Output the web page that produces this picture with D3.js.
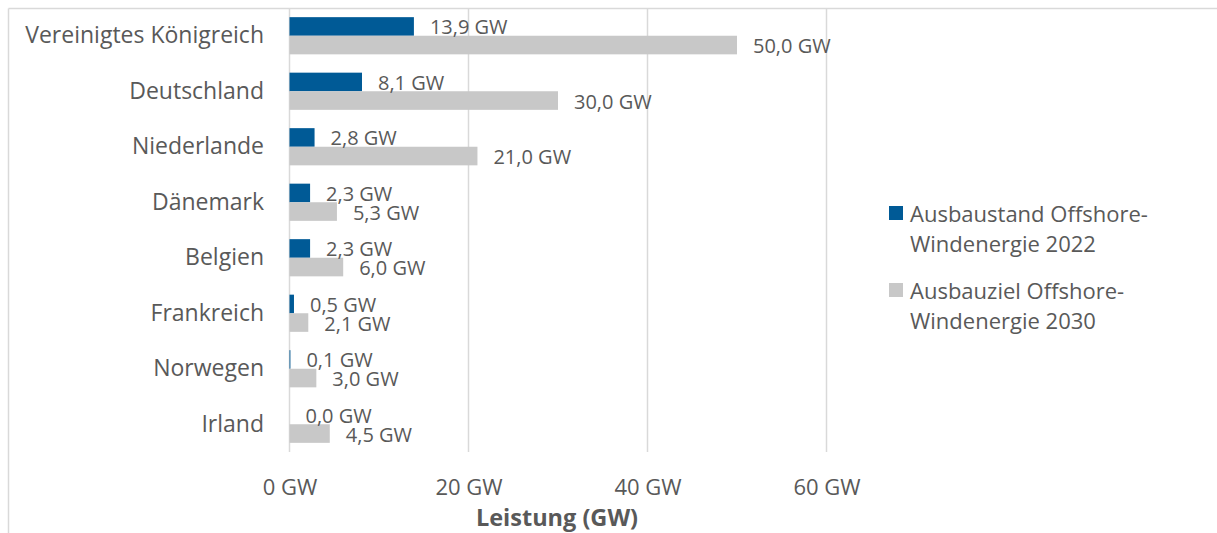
<!DOCTYPE html>
<html>
<head>
<meta charset="utf-8">
<script src="https://cdn.jsdelivr.net/npm/d3@7"></script>
<style>
  html, body { margin: 0; padding: 0; background: #fff; }
  svg { display: block; font-family: "Open Sans", "Noto Sans", sans-serif; }
</style>
</head>
<body>
<svg id="chart" width="1217" height="533"></svg>
<script>
// Offshore wind capacity by country: installed 2022 vs. target 2030 (GW)
const countries = ["Vereinigtes Königreich", "Deutschland", "Niederlande", "Dänemark",
                   "Belgien", "Frankreich", "Norwegen", "Irland"];
const installed2022 = [13.9, 8.1, 2.8, 2.3, 2.3, 0.5, 0.1, 0.0];
const target2030 = [50.0, 30.0, 21.0, 5.3, 6.0, 2.1, 3.0, 4.5];
const seriesNames = ["Ausbaustand Offshore-Windenergie 2022", "Ausbauziel Offshore-Windenergie 2030"];
const legendLines = [["Ausbaustand Offshore-", "Windenergie 2022"], ["Ausbauziel Offshore-", "Windenergie 2030"]];
const xTicks = [0, 20, 40, 60];
const axisTitle = "Leistung (GW)";

const colors = ["#005a96", "#c8c8c8"];
const textColor = "#595959";
const fmt = v => d3.format(".1f")(v).replace(".", ",") + " GW";

const svg = d3.select("#chart");

// chart frame (top and left edges)
svg.append("line").attr("x1", 8.5).attr("x2", 1217).attr("y1", 8.5).attr("y2", 8.5)
  .attr("stroke", "#d9d9d9").attr("stroke-width", 1.5);
svg.append("line").attr("x1", 8.5).attr("x2", 8.5).attr("y1", 8.5).attr("y2", 533)
  .attr("stroke", "#d9d9d9").attr("stroke-width", 1.5);

const x = d3.scaleLinear().domain([0, 60]).range([289.5, 826.5]);
const y = d3.scaleBand().domain(countries).range([8, 452]).paddingInner(0.33).paddingOuter(0.165);
const ySub = d3.scaleBand().domain([0, 1]).range([0, y.bandwidth()]);

// vertical gridlines
svg.append("g").selectAll("line").data(xTicks).join("line")
  .attr("x1", d => x(d)).attr("x2", d => x(d))
  .attr("y1", 9).attr("y2", 452)
  .attr("stroke", "#d9d9d9").attr("stroke-width", 1.5);

// x axis tick labels
const xAxis = d3.axisBottom(x).tickValues(xTicks).tickSize(0).tickPadding(0)
  .tickFormat(d => d + " GW");
const gx = svg.append("g").attr("transform", "translate(0,479)").call(xAxis);
gx.select(".domain").remove();
gx.selectAll("text").attr("fill", textColor).attr("font-size", 22)
  .attr("font-family", "\"Open Sans\", \"Noto Sans\", sans-serif");

// axis title
svg.append("text").attr("x", 557).attr("y", 526).attr("text-anchor", "middle")
  .attr("fill", textColor).attr("font-size", 23.5).attr("font-weight", "bold")
  .text(axisTitle);

// category labels
const yAxis = d3.axisLeft(y).tickSize(0).tickPadding(0);
const gy = svg.append("g").attr("transform", "translate(264,0)").call(yAxis);
gy.select(".domain").remove();
gy.selectAll("text").attr("fill", textColor).attr("font-size", 23)
  .attr("font-family", "\"Open Sans\", \"Noto Sans\", sans-serif");

const rows = countries.map((c, i) => ({ c, vals: [installed2022[i], target2030[i]] }));

const groups = svg.append("g").selectAll("g").data(rows).join("g")
  .attr("transform", d => `translate(0,${y(d.c)})`);

groups.selectAll("rect").data(d => d.vals.map((v, k) => ({ v, k }))).join("rect")
  .attr("x", x(0))
  .attr("y", d => ySub(d.k))
  .attr("width", d => x(d.v) - x(0))
  .attr("height", ySub.bandwidth())
  .attr("fill", d => colors[d.k]);

groups.selectAll("text").data(d => d.vals.map((v, k) => ({ v, k }))).join("text")
  .attr("x", d => x(d.v) + 16)
  .attr("y", d => ySub(d.k) + ySub.bandwidth() / 2 + 1)
  .attr("dy", "0.35em")
  .attr("fill", textColor).attr("font-size", 20)
  .text(d => fmt(d.v));

// legend
const legend = svg.append("g").selectAll("g").data(seriesNames).join("g")
  .attr("transform", (d, i) => `translate(889,${206 + i * 77})`);
legend.append("rect").attr("width", 14).attr("height", 14).attr("fill", (d, i) => colors[i]);
legend.append("text").attr("fill", textColor).attr("font-size", 22)
  .selectAll("tspan").data((d, i) => legendLines[i]).join("tspan")
  .attr("x", 21).attr("y", (d, j) => 16 + j * 30)
  .text(d => d);
</script>
</body>
</html>
